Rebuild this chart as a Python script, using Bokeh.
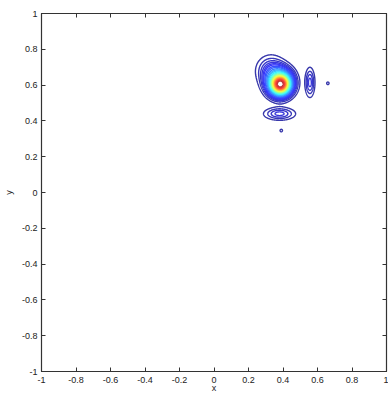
import numpy as np
from bokeh.plotting import figure
from bokeh.models import FixedTicker, LinearAxis, CustomJSTickFormatter
from bokeh.embed import file_html
from bokeh.resources import INLINE

# Lobes of the field (centre, amplitude, widths, profile exponent)
lobe_cx = [0.385, 0.38, 0.33, 0.556, 0.38, 0.66, 0.39]
lobe_cy = [0.605, 0.617, 0.68, 0.615, 0.44, 0.61, 0.346]
lobe_amp = [0.8, 0.22, 0.10, 0.09, 0.09, 0.03, 0.03]
lobe_sx = [0.05, 0.085, 0.07, 0.024, 0.076, 0.011, 0.011]
lobe_sy = [0.05, 0.085, 0.07, 0.069, 0.030, 0.011, 0.011]
lobe_pow = [2.0, 3.0, 2.0, 2.0, 2.0, 2.0, 2.0]

levels = [0.02, 0.04, 0.06, 0.08, 0.1, 0.12, 0.15, 0.18, 0.22, 0.26, 0.3,
          0.35, 0.4, 0.45, 0.5, 0.55, 0.6, 0.65, 0.7, 0.75, 0.8, 0.85, 0.9, 0.95]

tick_vals = [-1, -0.8, -0.6, -0.4, -0.2, 0, 0.2, 0.4, 0.6, 0.8, 1]


def jet(t, fade=0.22):
    r = min(max(1.5 - abs(4 * t - 3), 0), 1)
    g = min(max(1.5 - abs(4 * t - 2), 0), 1)
    b = min(max(1.5 - abs(4 * t - 1), 0), 1)
    r, g, b = [(1 - fade) * c + fade for c in (r, g, b)]
    return "#%02x%02x%02x" % (int(r * 255), int(g * 255), int(b * 255))


colors = [jet(l) for l in levels]

gx = np.linspace(0.1, 0.8, 351)
gy = np.linspace(0.2, 0.9, 351)
X, Y = np.meshgrid(gx, gy)
Z = np.zeros_like(X)
for cx, cy, a, sx, sy, q in zip(lobe_cx, lobe_cy, lobe_amp, lobe_sx, lobe_sy, lobe_pow):
    rho = np.sqrt(((X - cx) / sx) ** 2 + ((Y - cy) / sy) ** 2)
    Z += a * np.exp(-rho ** q)

p = figure(width=388, height=395, x_range=(-1, 1), y_range=(-1, 1),
           output_backend="svg", toolbar_location=None,
           min_border_left=40, min_border_top=13, min_border_right=2,
           min_border_bottom=22)
p.grid.visible = False
p.outline_line_color = "#333333"
p.outline_line_width = 1.2
p.background_fill_color = "white"
p.border_fill_color = "white"

p.contour(gx, gy, Z, levels, line_color=colors, line_width=1.4)

fmt = CustomJSTickFormatter(code="const v = Math.round(tick*10)/10; return v === 0 ? '0' : String(v);")
blank = CustomJSTickFormatter(code="return '';")
font = "Liberation Sans"

for ax in (p.xaxis[0], p.yaxis[0]):
    ax.ticker = FixedTicker(ticks=tick_vals)
    ax.formatter = fmt
    ax.major_tick_in = 4
    ax.major_tick_out = 0
    ax.minor_tick_line_color = None
    ax.major_label_text_font = font
    ax.major_label_text_font_size = "9px"
    ax.major_label_text_color = "#222222"
    ax.axis_line_color = "#333333"
    ax.major_tick_line_color = "#333333"
    ax.axis_label_text_font = font
    ax.axis_label_text_font_size = "9px"
    ax.axis_label_text_font_style = "normal"
    ax.axis_label_text_color = "#222222"

p.xaxis.major_label_standoff = 5
p.xaxis.axis_label_standoff = -3
p.yaxis.major_label_standoff = 4
p.yaxis.axis_label_standoff = 5

p.xaxis.axis_label = "x"
p.yaxis.axis_label = "y"

for side in ("above", "right"):
    a = LinearAxis(ticker=FixedTicker(ticks=tick_vals), formatter=blank,
                   major_label_standoff=0,
                   major_tick_in=4, major_tick_out=0,
                   minor_tick_line_color=None,
                   axis_line_color="#333333", major_tick_line_color="#333333")
    p.add_layout(a, side)

open("out.html", "w").write(file_html(p, INLINE))
